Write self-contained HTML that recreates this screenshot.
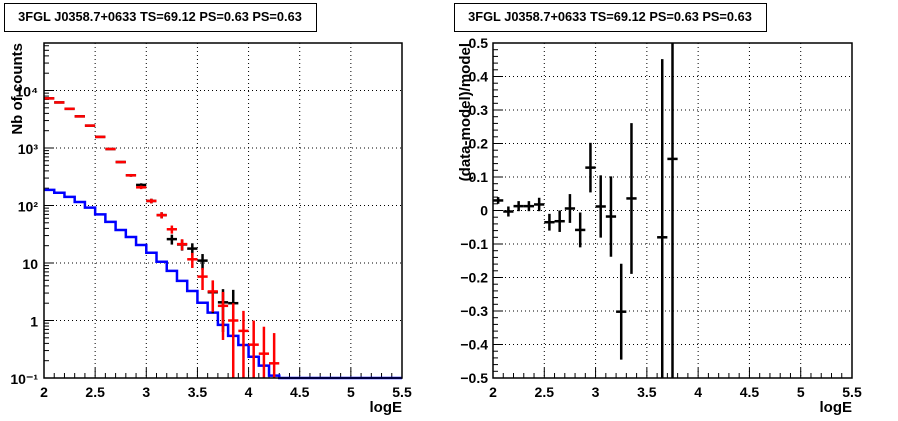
<!DOCTYPE html>
<html><head><meta charset="utf-8">
<style>
html,body{margin:0;padding:0;background:#fff;}
svg{display:block;font-family:"Liberation Sans",Arial,sans-serif;}
</style></head>
<body>
<svg id="c" width="898" height="421" viewBox="0 0 898 421" xmlns="http://www.w3.org/2000/svg">
<rect x="0" y="0" width="898" height="421" fill="#fff"/>
<rect x="4.5" y="3.5" width="312" height="28" fill="#fff" stroke="#000"/>
<text x="160" y="21" font-size="12.8" font-weight="bold" text-anchor="middle">3FGL J0358.7+0633 TS=69.12 PS=0.63 PS=0.63</text>
<rect x="454.5" y="3.5" width="312" height="28" fill="#fff" stroke="#000"/>
<text x="610" y="21" font-size="12.8" font-weight="bold" text-anchor="middle">3FGL J0358.7+0633 TS=69.12 PS=0.63 PS=0.63</text>
<g id="L"></g><g id="R"></g>
</svg>
<script>
// ---- data ----
const binCenters = [2.05,2.15,2.25,2.35,2.45,2.55,2.65,2.75,2.85,2.95,3.05,3.15,3.25,3.35,3.45,3.55,3.65,3.75,3.85,3.95,4.05,4.15,4.25];
const modelCounts = [7300,6200,4800,3550,2450,1560,960,570,335,207,120,68,38.6,21.3,11.6,5.8,3.2,1.8,1.0,0.66,0.38,0.265,0.18];
const dataCounts = [7300,6200,4800,3550,2450,1560,960,570,335,228,120,68,26,21,17.8,11,3.1,2.07,2,0,0,0,0];
const blueEdges = [2.0,2.1,2.2,2.3,2.4,2.5,2.6,2.7,2.8,2.9,3.0,3.1,3.2,3.3,3.4,3.5,3.6,3.7,3.8,3.9,4.0,4.1,4.2,4.3];
const blueCounts = [187,167,141,115,92,70,52,37.5,28.3,20.6,15.1,10.5,7.3,4.9,3.26,2.04,1.37,0.84,0.54,0.375,0.234,0.164,0.11,0.0];
const resX = [2.05,2.15,2.25,2.35,2.45,2.55,2.65,2.75,2.85,2.95,3.05,3.15,3.25,3.35,3.65,3.75];
const resVal = [0.03,-0.003,0.013,0.013,0.018,-0.035,-0.032,0.006,-0.058,0.128,0.012,-0.018,-0.302,0.036,-0.08,0.154];
const resErr = [0.01,0.015,0.015,0.015,0.02,0.025,0.032,0.043,0.052,0.074,0.093,0.12,0.143,0.225,0.532,0.8];
const xTicks = ["2","2.5","3","3.5","4","4.5","5","5.5"];
const logTicks = ["10\u207B\u00B9","1","10","10\u00B2","10\u00B3","10\u2074"];
const resTicks = ["\u22120.5","\u22120.4","\u22120.3","\u22120.2","\u22120.1","0","0.1","0.2","0.3","0.4","0.5"];

const NS="http://www.w3.org/2000/svg";
function mk(p,tag,a,txt){const e=document.createElementNS(NS,tag);for(const k in a)e.setAttribute(k,a[k]);if(txt!==undefined)e.textContent=txt;p.appendChild(e);return e;}

// ---- left panel ----
const L=document.getElementById('L');
const lx0=44,lx1=402,ly0=378,ly1=43;
const lX=v=>lx0+(v-2)/3.5*(lx1-lx0);
const decPx=57.5;
const lY=v=>{if(v<=0.1)return ly0;const y=ly0-(Math.log10(v)+1)*decPx;return Math.max(ly1,y);};
for(let i=1;i<xTicks.length-1;i++){const x=lX(parseFloat(xTicks[i]));
 const g=mk(L,'line',{x1:x,y1:ly1,x2:x,y2:ly0,stroke:'#000','stroke-dasharray':'1,3','stroke-width':1});
 }
for(let d=1;d<logTicks.length;d++){const y=lY(Math.pow(10,d-1));
 const g=mk(L,'line',{x1:lx0,y1:y,x2:lx1,y2:y,stroke:'#000','stroke-dasharray':'1,3','stroke-width':1});
 }
for(let i=0;i<=35;i++){const x=lX(2+i*0.1);const big=i%5===0;
 mk(L,'line',{x1:x,y1:ly0,x2:x,y2:ly0-(big?10:5),stroke:'#000'});}
xTicks.forEach((t,i)=>{const e=mk(L,'text',{x:lX(parseFloat(t)),y:397,'font-size':14,'font-weight':'bold','text-anchor':'middle'},t);
 });
for(let d=-1;d<5;d++){for(let m=1;m<10;m++){const v=m*Math.pow(10,d);const y=lY(v);if(y<=ly1)continue;
 mk(L,'line',{x1:lx0,y1:y,x2:lx0+(m===1?10:5),y2:y,stroke:'#000'});}}
logTicks.forEach((t,i)=>{const y=lY(Math.pow(10,i-1));const e=mk(L,'text',{x:38,y:y+6,'font-size':14,'font-weight':'bold','text-anchor':'end'},t);
 });
let d='';blueCounts.forEach((v,i)=>{const y=lY(v);const xa=lX(blueEdges[i]),xb=lX(blueEdges[i]+0.1);d+=(i?'L':'M')+xa+','+y+'L'+xb+','+y;});
d+='L'+lX(5.5)+','+ly0;
const bl=mk(L,'path',{d:d,fill:'none',stroke:'#0000ff','stroke-width':2.5});

function pts(arr,col,name){arr.forEach((v,i)=>{if(v<=0)return;const x=lX(binCenters[i]);const e=Math.sqrt(v);
 const g=mk(L,'g',{stroke:col,'stroke-width':2.5});
 
 mk(g,'line',{x1:lX(binCenters[i]-0.05),y1:lY(v),x2:lX(binCenters[i]+0.05),y2:lY(v)});
 mk(g,'line',{x1:x,y1:lY(v+e),x2:x,y2:lY(v-e)});});}
pts(dataCounts,'#000','data-point');
pts(modelCounts,'#ff0000','model-point');
const lf=mk(L,'rect',{x:lx0,y:ly1,width:lx1-lx0,height:ly0-ly1,fill:'none',stroke:'#000','stroke-width':1.5});

let t=mk(L,'text',{x:402,y:412,'font-size':15,'font-weight':'bold','text-anchor':'end'},'logE');

t=mk(L,'text',{x:0,y:0,'font-size':15,'font-weight':'bold','text-anchor':'end',transform:'translate(22,43) rotate(-90)'},'Nb of counts');


// ---- right panel ----
const R=document.getElementById('R');
const rx0=493,rx1=852,ry0=378,ry1=43;
const rX=v=>rx0+(v-2)/3.5*(rx1-rx0);
const rY=v=>{const y=ry0-(v+0.5)*(ry0-ry1);return Math.min(ry0,Math.max(ry1,y));};
for(let i=1;i<xTicks.length-1;i++){const x=rX(parseFloat(xTicks[i]));
 const g=mk(R,'line',{x1:x,y1:ry1,x2:x,y2:ry0,stroke:'#000','stroke-dasharray':'1,3'});
 }
for(let i=1;i<resTicks.length-1;i++){const y=rY(-0.5+i*0.1);
 const g=mk(R,'line',{x1:rx0,y1:y,x2:rx1,y2:y,stroke:'#000','stroke-dasharray':'1,3'});
 }
for(let i=0;i<=35;i++){const x=rX(2+i*0.1);const big=i%5===0;mk(R,'line',{x1:x,y1:ry0,x2:x,y2:ry0-(big?10:5),stroke:'#000'});}
for(let i=0;i<=50;i++){const y=ry0-i*(ry0-ry1)/50;mk(R,'line',{x1:rx0,y1:y,x2:rx0+(i%5===0?10:5),y2:y,stroke:'#000'});}
xTicks.forEach(t=>{const e=mk(R,'text',{x:rX(parseFloat(t)),y:397,'font-size':14,'font-weight':'bold','text-anchor':'middle'},t);
 });
resTicks.forEach((t,i)=>{const e=mk(R,'text',{x:488,y:rY(-0.5+i*0.1)+5,'font-size':14,'font-weight':'bold','text-anchor':'end'},t);
 });
resVal.forEach((v,i)=>{const x=rX(resX[i]);const g=mk(R,'g',{stroke:'#000','stroke-width':2.5});
 
 mk(g,'line',{x1:rX(resX[i]-0.05),y1:rY(v),x2:rX(resX[i]+0.05),y2:rY(v)});
 mk(g,'line',{x1:x,y1:rY(v+resErr[i]),x2:x,y2:rY(v-resErr[i])});});
const rf=mk(R,'rect',{x:rx0,y:ry1,width:rx1-rx0,height:ry0-ry1,fill:'none',stroke:'#000','stroke-width':1.5});

t=mk(R,'text',{x:852,y:412,'font-size':15,'font-weight':'bold','text-anchor':'end'},'logE');

t=mk(R,'text',{x:0,y:0,'font-size':15,'font-weight':'bold','text-anchor':'end',transform:'translate(470,43) rotate(-90)'},'(data-model)/model');

</script>
</body></html>
